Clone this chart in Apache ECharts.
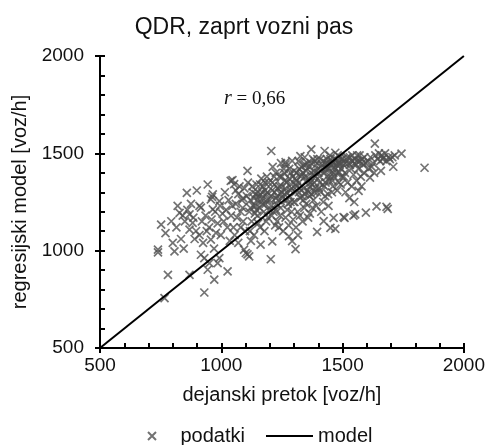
<!DOCTYPE html>
<html>
<head>
<meta charset="utf-8">
<script src="https://cdn.jsdelivr.net/npm/echarts@6/dist/echarts.min.js"></script>
<style>
  html, body { margin: 0; padding: 0; background: #fff; }
  #chart { width: 488px; height: 445px; }
</style>
</head>
<body>
<div id="chart"></div>
<script>
// dejanski pretok / regresijski model [voz/h]
var podatki = [
  // 740-900
  [739,1005],[739,991],[752,1134],[766,756],[780,876],[794,1151],[800,1040],[807,996],
  [834,1060],[828,1194],[841,1180],[858,1297],[869,1108],[869,876],[869,1186],[882,1143],
  [896,1101],[899,1309],[910,1230],[770,1090],[815,1120],[850,1150],[860,1210],[885,1170],
  [875,1240],[890,1060],[845,1010],[820,1230],
  // 900-1000
  [930,785],[944,902],[951,936],[985,936],[971,851],[916,979],[930,962],[992,962],
  [957,1057],[978,1091],[944,1340],[962,1276],[965,1289],[957,1263],[992,1255],[965,1212],
  [916,1221],[920,1150],[935,1180],[950,1120],[960,1160],[975,1200],[985,1140],[995,1230],
  [940,1100],[910,1080],[925,1040],[970,1010],[998,1080],
  // 1000-1100
  [1026,894],[1046,1362],[1039,1358],[1053,1342],[1010,1150],[1020,1210],[1030,1260],[1040,1180],
  [1050,1120],[1060,1240],[1070,1290],[1080,1200],[1090,1150],[1095,1320],[1015,1300],[1035,1050],
  [1055,1080],[1065,1170],[1075,1330],[1085,1260],[1094,1005],[1098,1100],[1025,1120],[1045,1230],
  [1060,1310],[1080,1120],[1090,1270],[1005,1190],[1070,1040],[1088,1220],
  // 1100-1200
  [1101,988],[1115,971],[1108,981],[1108,1410],[1162,1031],[1110,1350],[1115,1200],[1120,1260],
  [1125,1150],[1130,1300],[1135,1080],[1140,1230],[1145,1340],[1150,1180],[1155,1280],[1160,1120],
  [1165,1370],[1170,1240],[1175,1200],[1180,1310],[1185,1150],[1190,1260],[1195,1350],[1105,1280],
  [1118,1100],[1128,1330],[1138,1190],[1148,1260],[1158,1220],[1168,1300],[1178,1100],[1188,1380],
  [1198,1210],[1122,1050],[1142,1290],[1152,1140],[1172,1330],[1182,1240],[1192,1170],[1132,1230],
  [1162,1290],[1150,1300],[1160,1340],[1170,1270],[1180,1350],[1190,1300],[1120,1220],[1135,1270],
  [1145,1210],[1165,1250],[1185,1290],
  // 1200-1300
  [1204,956],[1206,1512],[1210,1048],[1265,1455],[1265,1443],[1279,1074],[1292,1049],[1292,1461],
  [1205,1280],[1210,1350],[1215,1200],[1220,1300],[1225,1400],[1230,1150],[1235,1260],[1240,1330],
  [1245,1220],[1250,1380],[1255,1100],[1260,1290],[1265,1170],[1270,1350],[1275,1240],[1280,1420],
  [1285,1310],[1290,1200],[1295,1380],[1208,1180],[1218,1380],[1228,1240],[1238,1120],[1248,1300],
  [1258,1420],[1268,1260],[1278,1130],[1288,1340],[1298,1250],[1212,1430],[1222,1130],[1232,1320],
  [1242,1180],[1252,1270],[1262,1360],[1272,1210],[1282,1280],[1296,1160],[1226,1210],[1246,1450],
  [1286,1400],[1200,1260],[1210,1310],[1220,1340],[1230,1280],[1240,1380],[1250,1330],[1260,1400],
  [1270,1300],[1280,1370],[1290,1320],[1205,1230],[1225,1270],[1245,1290],[1265,1320],[1285,1250],
  // 1300-1400
  [1306,1008],[1326,1486],[1371,1520],[1395,1097],[1305,1300],[1310,1400],[1315,1200],[1320,1350],
  [1325,1270],[1330,1430],[1335,1150],[1340,1320],[1345,1380],[1350,1240],[1355,1450],[1360,1300],
  [1365,1190],[1370,1400],[1375,1340],[1380,1260],[1385,1460],[1390,1380],[1395,1300],[1302,1250],
  [1312,1330],[1322,1420],[1332,1280],[1342,1220],[1352,1360],[1362,1430],[1372,1290],[1382,1410],
  [1392,1230],[1308,1120],[1318,1460],[1328,1380],[1338,1260],[1348,1440],[1358,1170],[1368,1350],
  [1378,1470],[1388,1320],[1398,1420],[1316,1080],[1336,1400],[1356,1310],[1376,1220],[1396,1470],
  [1344,1480],[1364,1280],[1384,1350],[1324,1180],[1304,1370],[1300,1410],[1310,1360],[1320,1300],
  [1330,1390],[1340,1440],[1350,1410],[1360,1370],[1370,1450],[1380,1390],[1390,1440],[1305,1340],
  [1325,1320],[1345,1290],[1365,1330],[1385,1300],
  // 1400-1500
  [1422,1152],[1426,1512],[1450,1117],[1463,1168],[1470,1112],[1470,1503],[1405,1380],[1410,1300],
  [1415,1440],[1420,1250],[1425,1400],[1430,1350],[1435,1470],[1440,1290],[1445,1420],[1450,1380],
  [1455,1460],[1460,1330],[1465,1430],[1475,1400],[1480,1460],[1485,1350],[1490,1480],[1495,1420],
  [1408,1470],[1418,1340],[1428,1280],[1438,1420],[1448,1490],[1458,1360],[1468,1470],[1478,1310],
  [1488,1440],[1498,1380],[1412,1200],[1432,1450],[1442,1230],[1452,1440],[1462,1400],[1482,1450],
  [1492,1340],[1402,1320],[1436,1380],[1456,1300],[1476,1440],[1496,1470],[1400,1400],[1410,1430],
  [1420,1460],[1430,1420],[1440,1450],[1450,1470],[1460,1450],[1470,1420],[1480,1490],[1490,1450],
  [1405,1350],[1425,1330],[1445,1360],[1465,1380],[1485,1400],
  // 1500-1600
  [1504,1173],[1508,1168],[1545,1180],[1552,1186],[1566,1307],[1596,1195],[1505,1440],[1510,1400],
  [1515,1470],[1520,1350],[1525,1450],[1530,1480],[1535,1420],[1540,1460],[1545,1390],[1550,1470],
  [1555,1440],[1560,1490],[1565,1420],[1570,1460],[1575,1380],[1580,1470],[1585,1440],[1590,1480],
  [1595,1450],[1512,1300],[1528,1270],[1538,1330],[1548,1250],[1558,1360],[1578,1330],[1588,1400],
  [1500,1470],[1510,1450],[1520,1480],[1530,1440],[1540,1490],[1550,1450],[1560,1460],[1570,1490],
  [1580,1450],[1505,1380],
  // 1600-1700
  [1613,1375],[1633,1550],[1640,1228],[1658,1410],[1681,1225],[1686,1215],[1605,1460],[1615,1480],
  [1625,1450],[1635,1490],[1645,1470],[1650,1500],[1655,1460],[1660,1490],[1665,1470],[1670,1480],
  [1675,1500],[1680,1460],[1690,1480],[1695,1470],[1620,1430],[1608,1420],[1630,1400],
  // 1700+
  [1709,1431],[1743,1498],[1838,1426],[1705,1480],[1715,1490]
];
var model = [[500, 500], [2000, 2000]];
var axisMin = 500, axisMax = 2000;

var chart = echarts.init(document.getElementById('chart'));
var font = 'Liberation Sans, Arial, sans-serif';

var baseAxis = {
  min: axisMin, max: axisMax, type: 'value',
  splitLine: { show: false },
  axisLine: { show: true, onZero: false, lineStyle: { color: '#000', width: 2 } }
};
var plain = function (v) { return String(v); };

chart.setOption({
  animation: false,
  title: {
    text: 'QDR, zaprt vozni pas', left: 'center', top: 11,
    textStyle: { fontFamily: font, fontSize: 23, fontWeight: 'normal', color: '#111' }
  },
  grid: { left: 100, right: 22, top: 56, bottom: 97 },
  legend: {
    top: 421, left: 142, itemWidth: 47, itemHeight: 8, itemGap: 20,
    textStyle: { fontFamily: font, fontSize: 20, color: '#111' },
    data: [
      { name: 'podatki' },
      { name: 'model', itemStyle: { color: 'rgba(0,0,0,0)', borderWidth: 0, opacity: 0 } }
    ]
  },
  xAxis: [
    Object.assign({}, baseAxis, {
      position: 'bottom', interval: 500,
      name: 'dejanski pretok [voz/h]', nameLocation: 'middle', nameGap: 37,
      nameTextStyle: { fontFamily: font, fontSize: 20, color: '#111' },
      axisTick: { show: true, inside: false, length: 5, lineStyle: { color: '#000', width: 2 } },
      axisLabel: { margin: 8, fontFamily: font, fontSize: 19, color: '#111', formatter: plain }
    }),
    Object.assign({}, baseAxis, {
      position: 'bottom', interval: 100,
      axisTick: { show: true, inside: true, length: 5, lineStyle: { color: '#000', width: 2 } },
      axisLabel: { show: false }
    })
  ],
  yAxis: [
    Object.assign({}, baseAxis, {
      position: 'left', interval: 500,
      name: 'regresijski model [voz/h]', nameLocation: 'middle', nameGap: 70,
      nameTextStyle: { fontFamily: font, fontSize: 20, color: '#111' },
      axisTick: { show: true, inside: false, length: 5, lineStyle: { color: '#000', width: 2 } },
      axisLabel: { margin: 16, fontFamily: font, fontSize: 19, color: '#111', formatter: plain }
    }),
    Object.assign({}, baseAxis, {
      position: 'left', interval: 100,
      axisTick: { show: true, inside: true, length: 5, lineStyle: { color: '#000', width: 2 } },
      axisLabel: { show: false }
    })
  ],
  graphic: [{
    type: 'text', left: 224, top: 89,
    style: {
      text: '{r|r} = 0,66',
      font: '19px "Liberation Serif", serif',
      fill: '#111',
      rich: { r: { fontStyle: 'italic', fontFamily: 'Liberation Serif, serif', fontSize: 20 } }
    }
  }],
  series: [
    {
      name: 'podatki', type: 'scatter', data: podatki,
      symbol: 'path://M0,0L10,10M0,10L10,0', symbolSize: 8,
      itemStyle: { color: 'rgba(0,0,0,0)', borderColor: '#4f4f4f', borderWidth: 1.7 },
      z: 2
    },
    {
      name: 'model', type: 'line', data: model, showSymbol: false, symbol: 'none',
      lineStyle: { color: '#000', width: 2 }, itemStyle: { color: '#000' },
      z: 3
    }
  ]
});
</script>
</body>
</html>
